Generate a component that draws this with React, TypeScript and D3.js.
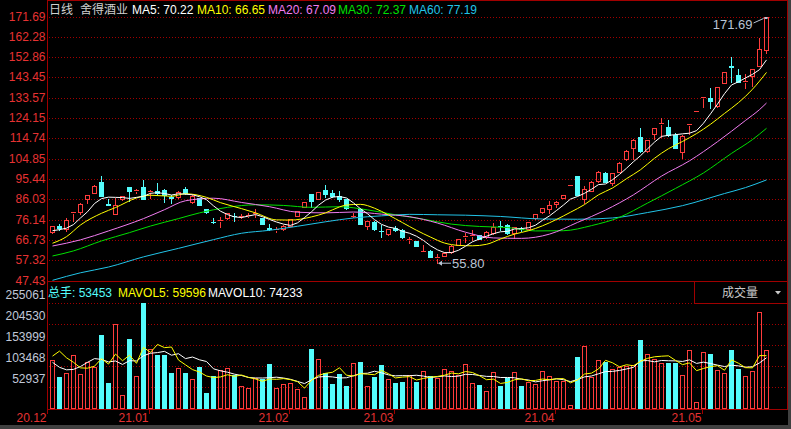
import * as d3 from 'd3'

// daily candles, 2020-12 .. 2021-05
const opens = [70.6, 73.3, 71.9, 79.6, 79.9, 86.0, 89.0, 94.0, 83.5, 79.1,
  85.9, 91.5, 89.8, 91.7, 89.5, 89.9, 90.3, 86.8, 86.8, 90.6,
  84.8, 86.4, 81.2, 75.2, 75.9, 76.9, 78.2, 77.8, 78.0, 79.1,
  76.9, 72.2, 71.6, 71.9, 73.5, 78.0, 82.4, 88.4, 86.0, 90.3,
  89.0, 87.4, 85.9, 77.8, 81.2, 73.3, 75.3, 71.1, 69.4, 72.6,
  71.4, 66.9, 66.3, 61.5, 61.7, 58.2, 59.2, 60.9, 64.4, 68.1,
  68.6, 69.1, 68.0, 69.9, 73.5, 73.6, 69.9, 72.1, 71.9, 76.9,
  79.8, 81.2, 83.9, 86.6, 92.8, 96.9, 85.9, 90.0, 94.5, 98.4,
  93.6, 98.9, 104.7, 110.2, 115.4, 108.6, 116.6, 121.4, 120.1, 116.2,
  108.3, 120.9, 127.6, 133.5, 133.7, 129.8, 140.8, 148.6, 144.4, 141.0,
  144.1, 148.8, 156.2]

const highs = [73.5, 74.3, 76.9, 80.0, 84.0, 88.0, 92.4, 96.9, 85.9, 86.4,
  87.5, 91.7, 90.9, 95.0, 90.3, 93.4, 90.6, 87.9, 89.9, 91.8,
  87.7, 86.5, 81.4, 77.2, 77.7, 79.5, 79.3, 79.2, 79.6, 81.2,
  77.1, 74.1, 73.0, 73.7, 76.7, 80.5, 84.8, 88.6, 89.5, 92.6,
  90.3, 89.8, 86.1, 79.3, 81.8, 75.9, 75.5, 73.8, 72.0, 73.3,
  71.7, 68.3, 66.4, 64.4, 61.8, 60.1, 60.9, 64.2, 67.4, 69.9,
  71.4, 69.3, 70.8, 74.6, 75.7, 74.1, 73.0, 73.0, 75.3, 79.0,
  81.9, 85.1, 85.1, 88.0, 92.8, 96.9, 92.1, 94.3, 99.0, 98.9,
  98.4, 103.3, 109.0, 114.2, 119.6, 114.0, 119.5, 124.0, 123.2, 117.2,
  116.0, 121.3, 127.6, 134.0, 138.4, 138.8, 145.9, 153.0, 147.2, 144.9,
  147.3, 161.7, 171.69]

const lows = [69.9, 71.4, 71.1, 75.8, 79.0, 84.3, 88.7, 87.4, 83.2, 78.9,
  85.7, 85.2, 89.0, 86.0, 86.5, 88.5, 84.5, 84.3, 86.6, 88.5,
  84.0, 83.0, 79.5, 74.9, 72.7, 76.7, 75.8, 77.0, 77.5, 77.7,
  74.1, 71.4, 70.6, 71.6, 73.2, 77.8, 82.2, 82.1, 85.8, 86.8,
  87.2, 85.1, 81.4, 77.7, 74.1, 71.7, 71.5, 68.3, 69.1, 71.0,
  67.7, 65.5, 63.7, 61.4, 58.7, 55.8, 59.0, 60.7, 64.2, 65.9,
  66.7, 67.0, 67.8, 69.7, 71.4, 69.7, 67.5, 70.9, 71.7, 76.7,
  79.5, 79.6, 82.4, 86.4, 92.8, 87.7, 84.3, 89.7, 94.2, 93.9,
  92.6, 98.6, 104.4, 104.7, 108.3, 108.3, 114.1, 115.4, 115.9, 109.9,
  105.5, 116.6, 127.6, 129.5, 129.0, 129.5, 140.5, 141.2, 141.0, 138.1,
  139.2, 148.5, 154.6]

const closes = [73.3, 72.4, 76.1, 79.9, 83.7, 87.8, 92.1, 87.6, 83.3, 83.2,
  87.3, 89.9, 90.1, 86.2, 90.0, 88.7, 87.9, 86.5, 89.5, 88.7,
  87.4, 83.2, 79.8, 75.0, 76.3, 79.3, 77.8, 78.1, 78.6, 79.5,
  74.3, 71.7, 71.9, 73.5, 76.5, 80.2, 84.6, 85.1, 89.3, 88.2,
  87.4, 85.9, 81.6, 78.0, 74.3, 75.7, 71.7, 70.8, 71.7, 71.3,
  68.3, 67.2, 63.9, 61.7, 58.9, 58.6, 60.8, 64.0, 67.2, 68.5,
  69.1, 67.2, 70.6, 73.0, 73.1, 69.9, 72.7, 71.8, 75.1, 78.8,
  81.6, 83.2, 84.4, 87.8, 92.8, 87.9, 90.6, 94.0, 98.6, 94.2,
  98.1, 103.1, 108.6, 113.8, 108.6, 113.8, 119.3, 121.9, 116.2, 110.2,
  115.7, 121.2, 127.6, 133.9, 132.3, 138.6, 145.7, 148.0, 141.2, 141.5,
  147.1, 156.5, 171.5]

const volumes = [118600, 77700, 87300, 129900, 84900, 114500, 101800, 178800, 64000, 205200,
  34400, 169100, 80100, 256500, 144400, 130600, 130600, 87300, 99400, 87300,
  72900, 101800, 39200, 80900, 94600, 99400, 81700, 56100, 52000, 75300,
  72200, 109000, 52000, 60900, 62500, 48800, 30300, 145800, 121000, 87300,
  60900, 84900, 56100, 111400, 114500, 56100, 77700, 106600, 72900, 64000,
  66400, 82500, 66400, 92100, 80100, 74600, 97000, 92100, 82500, 108300,
  62500, 58500, 44000, 89700, 56100, 75300, 89700, 56100, 65700, 60900,
  92100, 80100, 68100, 68100, 10300, 125800, 152300, 78400, 118600, 113800,
  97000, 102500, 104200, 106600, 166700, 133100, 121000, 111400, 111400, 111400,
  82500, 141900, 17600, 137900, 133100, 94600, 86600, 142700, 97000, 80100,
  92100, 234100, 141900]

// moving averages
const ma5 = [71.1, 71.6, 72.3, 74.0, 77.1, 80.0, 83.9, 86.2, 86.9, 86.8,
  86.7, 86.3, 86.8, 87.3, 88.7, 89.0, 88.6, 87.9, 88.5, 88.3,
  88.0, 87.1, 85.7, 82.8, 80.3, 78.7, 77.6, 77.3, 78.0, 78.7,
  77.7, 76.4, 75.2, 74.2, 73.6, 74.8, 77.3, 80.0, 83.1, 85.5,
  86.9, 87.2, 86.5, 84.2, 81.4, 79.1, 76.3, 74.1, 72.8, 72.2,
  70.8, 69.9, 68.5, 66.5, 64.0, 62.1, 60.8, 60.8, 61.9, 63.8,
  65.9, 67.2, 68.5, 69.7, 70.6, 70.8, 71.9, 72.1, 72.5, 73.7,
  76.0, 78.1, 80.6, 83.2, 86.0, 87.2, 88.7, 90.6, 92.8, 93.1,
  95.1, 97.6, 100.5, 103.6, 106.4, 109.6, 112.8, 115.5, 116.0, 116.3,
  116.7, 117.0, 118.2, 121.7, 126.1, 130.7, 135.6, 139.7, 141.2, 143.0,
  144.7, 146.9, 151.5]

const ma10: [number, number][] = [[0, 65.2], [2, 68.3], [4, 73.8], [7, 79.3], [9, 82.0], [12, 86.5], [14, 87.8],
  [17, 87.3], [19, 88.5], [22, 86.8], [24, 84.3], [27, 81.5], [29, 79.5], [32, 76.2], [34, 76.1],
  [37, 77.6], [39, 79.5], [41, 82.3], [42, 83.2], [44, 83.5], [46, 81.7], [48, 78.5], [50, 74.9],
  [52, 71.3], [54, 68.1], [56, 65.3], [58, 64.2], [60, 64.0], [62, 64.7], [64, 67.2], [66, 69.5],
  [68, 71.1], [70, 73.4], [72, 76.4], [74, 79.8], [76, 83.4], [78, 88.0], [80, 91.2], [82, 95.6],
  [84, 99.8], [86, 105.2], [88, 109.7], [90, 113.1], [92, 116.8], [94, 121.2], [96, 126.3],
  [98, 131.4], [100, 137.7], [102, 145.6]]

const ma20: [number, number][] = [[0, 63.9], [4, 66.8], [8, 71.0], [13, 76.8], [16, 81.0], [19, 85.2],
  [23, 86.4], [27, 84.4], [31, 82.4], [35, 79.8], [39, 79.5], [43, 79.9], [47, 78.9], [51, 77.7],
  [55, 74.7], [59, 70.4], [63, 67.7], [67, 67.5], [71, 69.5], [75, 75.0], [79, 80.8], [83, 88.0],
  [87, 96.8], [91, 104.0], [95, 113.0], [99, 123.0], [101, 128.1], [102, 131.2]]

const ma30: [number, number][] = [[0, 59.2], [3, 61.6], [7, 66.3], [11, 70.2], [14, 73.3], [18, 76.8],
  [21, 79.5], [25, 82.1], [29, 83.3], [33, 83.0], [37, 82.1], [41, 82.4], [45, 80.9], [49, 78.6],
  [53, 76.5], [57, 74.2], [61, 73.1], [65, 72.6], [69, 71.0], [73, 71.1], [77, 73.5], [81, 77.4],
  [85, 84.1], [89, 91.0], [93, 98.3], [97, 107.5], [100, 114.0], [102, 119.3]]

const ma60: [number, number][] = [[0, 47.75], [4, 51.3], [8, 54.0], [13, 58.8], [18, 62.8], [23, 66.9],
  [27, 69.9], [31, 71.3], [35, 73.2], [39, 75.3], [43, 77.1], [47, 78.1], [51, 78.8], [55, 78.6],
  [59, 78.4], [64, 77.8], [70, 76.6], [75, 76.5], [80, 77.1], [85, 79.65], [90, 82.9], [96, 88.6],
  [99, 91.4], [102, 95.0]]

const mavol5 = [128000, 140000, 124000, 113000, 99700, 98900, 103700, 122000, 108800, 132900,
  116800, 130300, 110600, 149100, 136900, 156100, 148400, 149900, 118500, 107000,
  95500, 89700, 80100, 76400, 77900, 83200, 79200, 82500, 76800, 72900,
  67500, 72900, 72100, 73900, 71300, 66600, 50900, 69700, 81700, 86600,
  89100, 100000, 82000, 80100, 85600, 84600, 83200, 93300, 85600, 75500,
  77500, 78500, 70400, 74300, 77500, 79100, 82000, 87200, 85300, 90900,
  88500, 80800, 71200, 72600, 62200, 64700, 71000, 73400, 68600, 69500,
  72900, 71000, 73400, 73900, 63700, 70500, 84900, 87000, 97100, 117800,
  112000, 102100, 107200, 104800, 115400, 122600, 126300, 127800, 128700, 117700,
  107500, 111700, 93000, 98300, 102600, 105000, 94000, 119000, 110800, 100200,
  99700, 129200, 129000]

const mavol10 = [113000, 101000, 95000, 96000, 103000, 113000, 122000, 120000, 114000, 116300,
  107900, 117000, 116300, 128900, 134900, 136500, 139400, 130200, 133800, 122000,
  125800, 119100, 115000, 97400, 92500, 89300, 84500, 81300, 76600, 75400,
  75300, 76000, 77300, 75300, 72100, 67100, 61900, 70900, 77800, 79000,
  77900, 75400, 75900, 80900, 86100, 86800, 91600, 87700, 82800, 80500,
  81100, 80800, 81900, 79900, 76500, 78300, 80300, 78800, 79800, 84200,
  83800, 81400, 79200, 78900, 76500, 76600, 75900, 72300, 70600, 65900,
  68800, 71000, 73400, 71200, 66600, 71700, 78000, 80200, 85500, 90800,
  91300, 93500, 97100, 101000, 116600, 117300, 114200, 117500, 116800, 116500,
  115100, 119000, 110400, 113500, 110100, 106300, 102800, 106000, 104500, 101400,
  102400, 111600, 124000]

const priceTicks = [171.69, 162.28, 152.86, 143.45, 133.57, 124.15, 114.74, 104.85, 95.44, 86.03, 76.14, 66.73, 57.32, 47.43]
const volTicks = [255061, 204530, 153999, 103468, 52937]
const monthLabels = ['20.12', '21.01', '21.02', '21.03', '21.04', '21.05']
const monthStarts = [0, 14, 34, 49, 72, 93]

const maLegend = [
  { text: 'MA5: 70.22', color: '#ffffff', x: 132 },
  { text: 'MA10: 66.65', color: '#ffff00', x: 197 },
  { text: 'MA20: 67.09', color: '#f07cf0', x: 268 },
  { text: 'MA30: 72.37', color: '#00e000', x: 338 },
  { text: 'MA60: 77.19', color: '#22c4e8', x: 409 },
]
const volLegend = [
  { text: '总手: 53453', color: '#54fcfc', x: 48 },
  { text: 'MAVOL5: 59596', color: '#ffff00', x: 118 },
  { text: 'MAVOL10: 74233', color: '#ffffff', x: 208 },
]

const FONT = "'Liberation Sans', Arial, 'Noto Sans CJK SC', sans-serif"
const RED = '#ff3c3c'
const CYAN = '#54fcfc'
const FRAME = '#a00000'
const GRID = '#a00000'
const LEFT = 47.5
const RIGHT = 787.5

export default function App() {
  const n = closes.length
  const x = d3.scaleLinear().domain([0, n - 1]).range([52.5, 766.5])
  const y = d3.scaleLinear().domain([47.43, 171.69]).range([281, 17])
  const yv = d3.scaleLinear().domain([0, 255061]).range([409.3, 303.3])

  const fullPrice = d3.line<number>().x((_, i) => x(i)).y(d => y(d))
  const fullVol = d3.line<number>().x((_, i) => x(i)).y(d => yv(d))
  const sampled = d3.line<[number, number]>().x(d => x(d[0])).y(d => y(d[1])).curve(d3.curveMonotoneX)

  const hiIdx = d3.maxIndex(highs)
  const loIdx = d3.minIndex(lows)
  const hx = x(hiIdx), hy = y(highs[hiIdx])
  const lx = x(loIdx) + 0.5, ly = y(lows[loIdx])

  return (
    <svg width={791} height={429} style={{ position: 'absolute', left: 0, top: 0, background: '#000' }}
      fontFamily={FONT}>
      <rect x={0} y={0} width={791} height={429} fill="#000" />
      <rect x={0} y={425} width={791} height={4} fill="#404040" />
      <rect x={788} y={0} width={3} height={429} fill="#404040" />

      {/* grid */}
      <g stroke={GRID} strokeDasharray="1 2" shapeRendering="crispEdges">
        {priceTicks.slice(0, -1).map(t => (
          <line key={t} x1={LEFT + 1} x2={RIGHT} y1={Math.round(y(t)) + 0.5} y2={Math.round(y(t)) + 0.5} />
        ))}
        {volTicks.map(t => (
          <line key={t} x1={LEFT + 1} x2={RIGHT} y1={Math.round(yv(t)) + 0.5} y2={Math.round(yv(t)) + 0.5} />
        ))}
      </g>

      {/* frame */}
      <g stroke={FRAME} fill="none" shapeRendering="crispEdges">
        <line x1={LEFT} x2={RIGHT} y1={0.5} y2={0.5} />
        <line x1={LEFT} x2={LEFT} y1={0} y2={414} />
        <line x1={RIGHT} x2={RIGHT} y1={0} y2={410} />
        <line x1={LEFT} x2={RIGHT} y1={281.5} y2={281.5} />
        <line x1={LEFT} x2={RIGHT} y1={409.5} y2={409.5} />
        <polyline points="694.5,281.5 694.5,303.5 787.5,303.5" />
        {monthStarts.slice(1).map(i => (
          <line key={i} x1={Math.round(x(i)) - 1.5} x2={Math.round(x(i)) - 1.5} y1={410} y2={414} />
        ))}
      </g>

      {/* price axis labels */}
      <g fill="#e63232" fontSize={12} textAnchor="end">
        {priceTicks.map(t => (
          <text key={t} x={45.5} y={y(t) + 4.3}>{t.toFixed(2)}</text>
        ))}
      </g>
      {/* volume axis labels */}
      <g fill="#c0c8d8" fontSize={12} textAnchor="end">
        {volTicks.map(t => (
          <text key={t} x={45.5} y={yv(t) - 4}>{t}</text>
        ))}
      </g>
      {/* month labels */}
      <g fill="#e63232" fontSize={12} textAnchor="end">
        {monthLabels.map((m, k) => {
          const tx = k === 0 ? LEFT : Math.round(x(monthStarts[k])) - 1.5
          return <text key={m} x={tx - 1} y={421.5}>{m}</text>
        })}
      </g>

      {/* candles */}
      <g shapeRendering="crispEdges">
        {closes.map((c, i) => {
          const o = opens[i]
          const left = Math.round(x(i) - 2.5)
          const mid = left + 2.5
          const top = Math.round(y(Math.max(o, c)))
          const bot = Math.round(y(Math.min(o, c)))
          const yh = Math.round(y(highs[i]))
          const yl = Math.round(y(lows[i]))
          if (c >= o) {
            return (
              <g key={i} stroke={RED} fill="none">
                {yh < top && <line x1={mid} x2={mid} y1={yh} y2={top} />}
                {yl > bot && <line x1={mid} x2={mid} y1={bot + 1} y2={yl + 1} />}
                {bot - top < 2
                  ? <line x1={left} x2={left + 5} y1={top + 0.5} y2={top + 0.5} />
                  : <rect x={left + 0.5} y={top + 0.5} width={4} height={bot - top} />}
              </g>
            )
          }
          return (
            <g key={i}>
              <line x1={mid} x2={mid} y1={yh} y2={yl + 1} stroke={CYAN} />
              <rect x={left} y={top} width={5} height={Math.max(1, bot - top + 1)} fill={CYAN} />
            </g>
          )
        })}
      </g>

      {/* volume bars */}
      <g shapeRendering="crispEdges">
        {volumes.map((v, i) => {
          const left = Math.round(x(i) - 2.5)
          const top = Math.round(yv(v))
          return closes[i] >= opens[i]
            ? <rect key={i} x={left + 0.5} y={top + 0.5} width={4} height={408 - top} fill="none" stroke={RED} />
            : <rect key={i} x={left} y={top} width={5} height={409 - top} fill={CYAN} />
        })}
      </g>

      {/* moving averages */}
      <g fill="none" strokeWidth={1}>
        <path d={sampled(ma60) ?? ''} stroke="#22c4e8" />
        <path d={sampled(ma30) ?? ''} stroke="#00e000" />
        <path d={sampled(ma20) ?? ''} stroke="#f07cf0" />
        <path d={sampled(ma10) ?? ''} stroke="#ffff00" />
        <path d={fullPrice(ma5) ?? ''} stroke="#ffffff" />
        <path d={fullVol(mavol10) ?? ''} stroke="#ffffff" />
        <path d={fullVol(mavol5) ?? ''} stroke="#ffff00" />
      </g>

      {/* high / low markers */}
      <g fill="#b8c4d4" stroke="#b8c4d4" fontSize={13}>
        <line x1={hx - 13} y1={hy + 6} x2={hx - 3} y2={hy + 1.5} />
        <rect x={hx - 2} y={hy} width={3} height={2} stroke="none" />
        <text x={hx - 14} y={hy + 12} textAnchor="end" stroke="none">{highs[hiIdx].toFixed(2)}</text>
        <line x1={lx + 3} y1={ly} x2={lx + 13} y2={ly} />
        <polygon points={`${lx},${ly} ${lx + 4},${ly - 2.5} ${lx + 4},${ly + 2.5}`} stroke="none" />
        <text x={lx + 14} y={ly + 4.5} stroke="none">{lows[loIdx].toFixed(2)}</text>
      </g>

      {/* legends */}
      <g fontSize={12}>
        <text x={49} y={13.5} fill="#d0d0d0">日线</text>
        <text x={80} y={13.5} fill="#d0d0d0">舍得酒业</text>
        {maLegend.map(d => <text key={d.text} x={d.x} y={13.5} fill={d.color}>{d.text}</text>)}
        {volLegend.map(d => <text key={d.text} x={d.x} y={297} fill={d.color}>{d.text}</text>)}
        <text x={722} y={297} fill="#c8c8c8">成交量</text>
      </g>
      <polygon points="775,291 781,291 778,294.5" fill="#c8c8c8" />
    </svg>
  )
}
